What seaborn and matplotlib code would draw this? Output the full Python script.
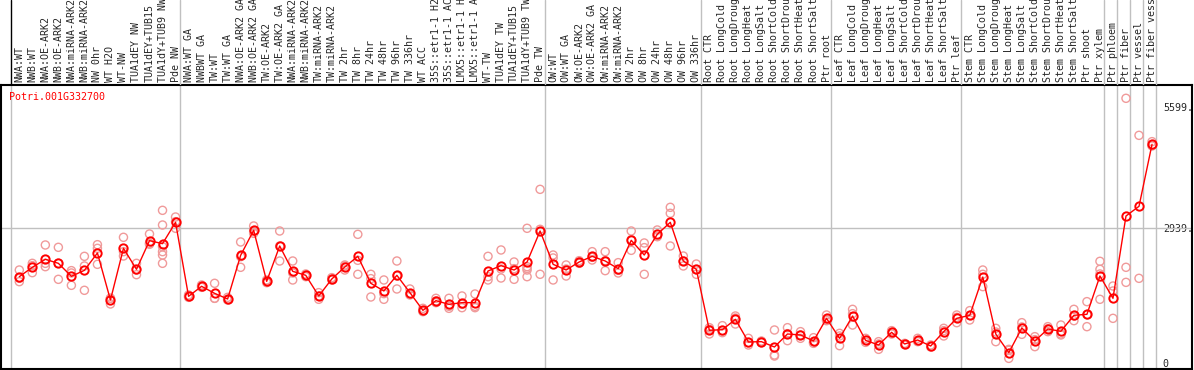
import numpy as np
import pandas as pd
import matplotlib
matplotlib.use("Agg")
import matplotlib.pyplot as plt
import seaborn as sns

gene = "Potri.001G332700"

labels = [
    "NWA:WT", "NWB:WT", "NWA:OE-ARK2", "NWB:OE-ARK2", "NWA:miRNA-ARK2", "NWB:miRNA-ARK2",
    "NW 0hr", "WT H2O", "WT-NW", "TUA1dEY NW", "TUA1dEY+TUB15", "TUA1dY+TUB9 NW", "Pde NW",
    "NWA:WT GA", "NWBWT GA", "TW:WT", "TW:WT GA", "NWA:OE-ARK2 GA", "NWB:OE-ARK2 GA",
    "TW:OE-ARK2", "TW:OE-ARK2 GA", "NWA:miRNA-ARK2", "NWB:miRNA-ARK2", "TW:miRNA-ARK2",
    "TW:miRNA-ARK2", "TW 2hr", "TW 8hr", "TW 24hr", "TW 48hr", "TW 96hr", "TW 336hr",
    "WT ACC", "35S::etr1-1 H2", "35S::etr1-1 AC", "LMX5::etr1-1 H", "LMX5::etr1-1 A",
    "WT-TW", "TUA1dEY TW", "TUA1dEY+TUB15", "TUA1dY+TUB9 TW", "Pde TW",
    "OW:WT", "OW:WT GA", "OW:OE-ARK2", "OW:OE-ARK2 GA", "OW:miRNA-ARK2", "OW:miRNA-ARK2",
    "OW 2hr", "OW 8hr", "OW 24hr", "OW 48hr", "OW 96hr", "OW 336hr",
    "Root CTR", "Root LongCold", "Root LongDroug", "Root LongHeat", "Root LongSalt",
    "Root ShortCold", "Root ShortDrou", "Root ShortHeat", "Root ShortSalt", "Ptr root",
    "Leaf CTR", "Leaf LongCold", "Leaf LongDroug", "Leaf LongHeat", "Leaf LongSalt",
    "Leaf ShortCold", "Leaf ShortDrou", "Leaf ShortHeat", "Leaf ShortSalt", "Ptr leaf",
    "Stem CTR", "Stem LongCold", "Stem LongDroug", "Stem LongHeat", "Stem LongSalt",
    "Stem ShortCold", "Stem ShortDrou", "Stem ShortHeat", "Stem ShortSalt", "Ptr shoot",
    "Ptr xylem", "Ptr phloem", "Ptr fiber", "Ptr vessel", "Ptr fiber vess",
]

# first sample index of each experiment block
group_starts = [0, 13, 41, 53, 63, 73, 84, 85, 86, 87, 88]

mean_expr = [
    1881, 2086, 2261, 2173, 1889, 2020, 2399, 1371, 2501, 2042, 2669, 2603, 3070,
    1451, 1670, 1517, 1393, 2348, 2895, 1779, 2552, 1998, 1911, 1459, 1830, 2093,
    2326, 1736, 1568, 1911, 1532, 1145, 1357, 1276, 1313, 1313, 2005, 2122, 2027,
    2202, 2880,
    2151, 2027, 2202, 2326, 2224, 2056, 2676, 2355, 2807, 3070, 2224, 2042,
    708, 722, 948, 453, 460, 343, 628, 606, 475, 970,
    533, 1021, 489, 387, 664, 409, 496, 365, 679, 970,
    1036, 1874, 627, 219, 759, 475, 737, 686, 1036, 1058, 1896,
    1408, 3208, 3420, 4776,
]

replicates = [
    [2027, 1845, 1772], [2173, 2122, 1969], [2574, 2173, 2100], [2523, 2173, 1823],
    [2013, 1962, 1692], [2326, 2115, 1583], [2581, 2501, 2151], [1408, 1408, 1284],
    [2742, 2428, 2333], [2173, 2027, 1925], [2815, 2610, 2589],
    [3332, 3011, 2538, 2428, 2355, 2173], [3186, 3084, 2939],
    [1481, 1451, 1429], [1699, 1670, 1648], [1736, 1408, 1408], [1429, 1386, 1371],
    [2640, 2319, 2086], [2990, 2866, 2829], [1809, 1779, 1750], [2880, 2552, 2224],
    [2224, 1962, 1809], [1940, 1911, 1881], [1532, 1459, 1386], [1860, 1830, 1809],
    [2137, 2115, 2027], [2807, 2239, 1933], [1933, 1838, 1437], [1809, 1510, 1386],
    [2224, 1896, 1612], [1612, 1502, 1481], [1189, 1131, 1116], [1408, 1349, 1313],
    [1408, 1233, 1189], [1459, 1276, 1203], [1502, 1233, 1203], [2326, 1881, 1809],
    [2465, 2049, 1852], [2202, 2056, 1823], [2939, 2100, 2064, 2027, 1881],
    [3791, 2917, 1933],
    [2355, 2290, 1809], [2137, 2049, 1896], [2231, 2202, 2173], [2428, 2304, 2246],
    [2428, 2231, 2013], [2188, 2020, 1962], [2880, 2691, 2457], [2618, 2516, 1933],
    [2902, 2763, 2756], [3398, 3267, 2552], [2333, 2224, 2115], [2158, 2035, 1933],
    [766, 730, 628], [810, 701, 657], [1021, 977, 846], [533, 438, 387], [474, 460, 438],
    [715, 168, 146], [766, 635, 482], [679, 606, 533], [547, 452, 423], [1043, 948, 919],
    [642, 584, 372], [1167, 1072, 824], [533, 489, 445], [460, 409, 292], [701, 664, 628],
    [423, 394], [533, 460], [387, 343], [752, 701, 584], [1043, 992, 875],
    [1138, 1036, 934], [2027, 1933, 1663], [752, 671, 460], [292, 270, 95],
    [875, 781, 620], [569, 504, 351], [788, 744, 679], [824, 628, 606],
    [1167, 1021, 919], [1335, 1050, 788], [2217, 2042, 1940, 1386],
    [1677, 1568, 970], [5782, 2086, 1757], [4972, 1845], [4834, 4754, 4739],
]

ytick_vals = [0, 2939, 5599]
ytick_text = ["0", "2939.", "5599."]

sns.set_style("white")
plt.rcParams["font.family"] = ["DejaVu Sans Mono"]
FS = 7.2

W, H = 1194, 370
fig = plt.figure(figsize=(W / 100, H / 100), dpi=100)
ax = fig.add_axes([1 / W, 1 - 369 / H, 1191 / W, 284 / H])
hx = fig.add_axes([1 / W, 1 - 85 / H, 1191 / W, 85 / H])

xlim = (-1.406, 90.07)
x = np.arange(len(labels))

rep_df = pd.DataFrame(
    [(i, v) for i, reps in enumerate(replicates) for v in reps],
    columns=["sample", "value"],
)

sns.scatterplot(data=rep_df, x="sample", y="value", ax=ax, marker="o", s=34,
                facecolors="none", edgecolor="#f09a9a", linewidth=1.0, zorder=2)
sns.lineplot(x=x, y=mean_expr, ax=ax, color="red", lw=1, marker="o", ms=6,
             mfc="none", mec="red", mew=1.4, zorder=3)

ax.set_xlim(xlim)
ax.set_ylim(-138, 6073)
ax.axhline(2939, color="#c0c0c0", lw=1, zorder=1)
for b in group_starts:
    ax.axvline(b - 0.66, color="#c0c0c0", lw=1, zorder=1)
ax.set_xticks([])
ax.set_xlabel("")
ax.set_ylabel("")
ax.set_yticks(ytick_vals)
ax.set_yticklabels(ytick_text)
ax.yaxis.tick_right()
ax.tick_params(axis="y", length=0, pad=-21, labelsize=FS)
for sp in ax.spines.values():
    sp.set_color("black")
    sp.set_linewidth(1.5)

ax.text(8 / 1191, 0.958, gene, transform=ax.transAxes, color="red",
        ha="left", va="center", fontsize=FS)

# header with rotated sample names
hx.set_xlim(xlim)
hx.set_ylim(0, 85)
hx.axis("off")
for i, lab in enumerate(labels):
    hx.text(i, 3, lab, rotation=90, ha="center", va="bottom", fontsize=FS)
hx.axvline(group_starts[0] - 0.66, color="black", lw=1)
for b in group_starts[1:]:
    hx.axvline(b - 0.66, color="#c0c0c0", lw=1)

fig.savefig("out.png", dpi=100)
